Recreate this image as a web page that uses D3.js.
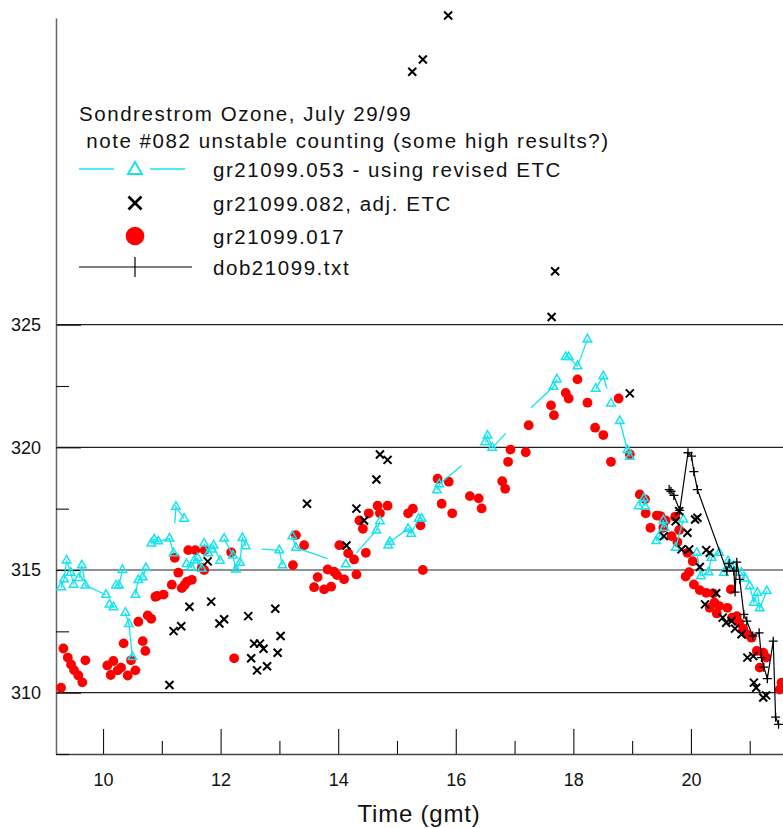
<!DOCTYPE html>
<html>
<head>
<meta charset="utf-8">
<script src="https://cdn.jsdelivr.net/npm/d3@7"></script>
<style>
  html, body { margin: 0; padding: 0; background: #fff; }
  svg { display: block; font-family: "Liberation Sans", Arial, sans-serif; }
</style>
</head>
<body>
<svg id="chart" width="783" height="828"></svg>
<script>
// Total ozone, Sondrestrom, July 29 1999 (time in hours GMT, ozone in DU)

// gr21099.053 - using revised ETC: runs of connected observations; third value 0 = no marker
const revisedEtcRuns = [
  [[9.286,314.30],[9.337,314.62],[9.38,315.39],[9.45,314.89],[9.50,314.40]],
  [[9.59,314.67],[9.64,315.19],[9.70,314.37],[10.05,313.99]],
  [[10.11,313.59],[10.18,313.48]],
  [[10.22,314.37],[10.27,314.37],[10.33,315.00]],
  [[10.38,313.26],[10.44,312.80],[10.50,311.45]],
  [[10.55,313.99],[10.60,314.59],[10.675,314.70],[10.73,315.08]],
  [[10.82,316.08],[10.87,316.25],[10.94,316.17],[11.13,316.28],[11.20,315.68]],
  [[11.22,316.90,0],[11.24,317.58],[11.38,317.09]],
  [[11.42,315.24],[11.50,315.11],[11.55,315.39],[11.61,315.48],[11.68,315.05]],
  [[11.72,316.08],[11.79,315.68],[11.84,315.84],[11.88,316.00],[11.99,315.38]],
  [[12.06,316.28],[12.21,315.59],[12.26,315.02],[12.33,315.30],[12.37,316.30],[12.43,315.97]],
  [[12.70,315.85,0],[12.998,315.80],[13.05,315.19]],
  [[13.22,316.38],[13.28,315.91],[13.82,315.46,0]],
  [[14.13,315.23]],
  [[14.31,315.70,0],[14.65,316.61],[14.71,316.99]],
  [[14.85,316.00],[14.88,316.15],[15.19,316.68],[15.24,316.48],[15.37,317.09],[15.42,317.09]],
  [[15.68,318.25],[15.72,318.50],[16.10,319.26,0]],
  [[16.50,320.21],[16.54,320.48],[16.62,319.98],[16.85,320.57,0]],
  [[17.28,321.61,0],[17.66,322.47],[17.72,322.77]],
  [[17.87,323.68],[17.92,323.68],[18.07,323.31],[18.24,324.40]],
  [[18.38,322.39],[18.51,322.90],[18.57,322.40,0]],
  [[18.64,321.79]],
  [[18.79,321.07],[18.92,319.89],[18.96,319.62]],
  [[19.11,317.60],[19.20,317.92],[19.22,317.58]],
  [[19.41,316.18],[19.46,316.38],[19.53,317.03],[19.55,316.72]],
  [[19.74,315.91],[19.87,317.06]],
  [[20.10,315.70],[20.17,314.75],[20.30,314.91],[20.35,315.50],[20.48,315.70]],
  [[20.56,314.89],[20.63,315.36],[20.73,315.16],[20.86,314.89],[20.92,314.65]],
  [[21.00,314.34],[21.07,313.67],[21.13,314.07],[21.17,313.44],[21.29,314.14]]
];

// gr21099.082, adj. ETC
const adjEtc082 = [
  [11.13,310.31],[11.20,312.51],[11.33,312.71],[11.47,313.50],[11.78,315.35],[11.84,313.71],
  [11.98,312.82],[12.06,312.99],[12.47,313.12],[12.52,311.40],[12.57,312.00],[12.62,310.91],
  [12.67,312.00],[12.73,311.79],[12.79,311.08],[12.93,313.42],[12.97,311.63],[13.02,312.31],
  [13.47,317.70],[14.14,316.00],[14.31,317.50],[14.44,317.02],[14.65,318.69],[14.71,319.71],
  [14.84,319.49],[15.26,335.31],[15.44,335.81],[15.87,337.60],[17.63,325.31],[17.69,327.18],
  [18.96,322.20],[19.54,316.38],[19.74,316.99],[19.80,317.40],[19.84,315.84],[19.94,316.52],
  [19.97,315.84],[20.07,317.06],[20.11,317.13],[20.15,315.12],[20.24,313.60],[20.26,315.81],
  [20.32,315.70],[20.43,314.05],[20.54,313.06],[20.60,312.85],[20.69,312.92],[20.75,312.61],
  [20.86,312.38],[20.96,311.43],[21.06,311.49],[21.07,310.41],[21.11,310.20],[21.23,309.80],
  [21.28,309.89]
];

// gr21099.017
const brewer017 = [
  [9.286,310.20],[9.325,311.80],[9.40,311.43],[9.456,311.15],[9.507,310.92],[9.58,310.70],
  [9.648,310.42],[9.70,311.32],[10.073,311.11],[10.13,310.72],[10.175,311.29],[10.25,310.91],
  [10.306,311.02],[10.35,312.01],[10.42,310.70],[10.476,311.32],[10.55,310.91],[10.60,312.89],
  [10.675,312.10],[10.72,311.70],[10.76,313.15],[10.82,313.01],[10.89,313.91],[10.92,313.94],
  [11.03,314.00],[11.17,314.40],[11.22,315.50],[11.28,314.89],[11.34,314.26],[11.39,314.40],
  [11.43,314.53],[11.45,315.81],[11.51,314.60],[11.57,315.81],[11.68,315.09],[11.72,315.00],
  [11.73,315.81],[12.18,315.72],[12.23,311.40],[13.23,315.20],[13.28,316.42],[13.42,316.01],
  [13.59,314.30],[13.65,314.71],[13.76,314.21],[13.82,315.02],[13.88,314.32],[13.93,314.93],
  [13.98,314.79],[14.02,316.01],[14.10,314.62],[14.17,315.68],[14.27,315.43],[14.31,314.82],
  [14.36,317.02],[14.42,316.68],[14.47,315.70],[14.52,317.31],[14.67,317.62],[14.71,317.31],
  [14.84,317.62],[15.19,317.31],[15.27,317.50],[15.40,316.82],[15.44,315.00],[15.69,318.72],
  [15.76,317.70],[15.88,318.60],[15.94,317.31],[16.24,318.01],[16.39,317.92],[16.44,317.51],
  [16.79,318.62],[16.84,318.31],[16.89,319.41],[16.93,319.91],[17.19,319.80],[17.24,320.90],
  [17.62,321.71],[17.67,321.31],[17.87,322.22],[17.92,321.99],[18.07,322.77],[18.24,321.82],
  [18.37,320.80],[18.51,320.50],[18.64,319.41],[18.77,321.99],[18.96,319.72],[19.13,318.08],
  [19.22,317.88],[19.23,317.31],[19.31,316.72],[19.42,317.22],[19.48,317.20],[19.53,316.72],
  [19.57,317.02],[19.67,316.38],[19.73,317.17],[19.77,316.14],[19.80,316.63],[19.91,314.73],
  [19.94,315.70],[19.97,314.91],[20.03,315.36],[20.05,314.41],[20.15,314.18],[20.26,314.07],
  [20.32,313.46],[20.38,314.05],[20.40,313.67],[20.44,313.23],[20.48,313.53],[20.62,313.46],
  [20.68,314.21],[20.70,313.06],[20.78,313.12],[20.82,312.85],[20.89,312.61],[20.95,312.38],
  [21.03,312.24],[21.12,311.70],[21.17,311.02],[21.23,311.63],[21.28,311.43],[21.51,310.13],
  [21.54,310.41]
];

// dob21099.txt (Dobson)
const dobson = [
  [19.63,318.28],[19.66,318.21],[19.71,318.04],[19.81,317.43],[19.95,319.78],[20.01,319.64],
  [20.05,319.01],[20.11,318.28],[20.61,314.96],[20.65,315.27],[20.73,314.96],[20.75,314.10],
  [20.78,315.32],[20.83,314.62],[20.90,313.19],[20.95,312.92],[21.05,312.31],[21.16,312.44],
  [21.20,311.43],[21.24,311.04],[21.30,310.57],[21.40,312.10],[21.44,309.00],[21.49,308.71]
];

const xMajorTicks = [10, 12, 14, 16, 18, 20];
const xMinorTicks = [11, 13, 15, 17, 19, 21];
const yMajorTicks = [310, 315, 320, 325];
const yMinorTicks = [307.5, 312.5, 317.5, 322.5];

const titleLines = ["Sondrestrom Ozone, July 29/99", " note #082 unstable counting (some high results?)"];
const legendLabels = ["gr21099.053 - using revised ETC", "gr21099.082, adj. ETC", "gr21099.017", "dob21099.txt"];
const xTitle = "Time (gmt)";

const CYAN = "#14e4ee", RED = "#ff0000", BLACK = "#000";

const svg = d3.select("#chart");
const x = d3.scaleLinear().domain([9.2, 21.6]).range([56, 785]);
const y = d3.scaleLinear().domain([307.5, 337.5]).range([754, 18]);

// horizontal grid lines
svg.append("g").selectAll("line").data(yMajorTicks).join("line")
  .attr("x1", x.range()[0]).attr("x2", 783)
  .attr("y1", d => y(d)).attr("y2", d => y(d))
  .attr("stroke", "#222").attr("stroke-width", 1.1);

// axes
const gx = svg.append("g").attr("transform", `translate(0,${y(307.5)})`);
gx.call(d3.axisBottom(x).tickValues(xMajorTicks).tickSizeInner(-25).tickSizeOuter(0).tickPadding(19).tickFormat(d3.format("d")));
gx.append("g").call(d3.axisBottom(x).tickValues(xMinorTicks).tickSizeInner(-13).tickSizeOuter(0).tickFormat(""))
  .select(".domain").remove();

const gy = svg.append("g").attr("transform", `translate(${x(9.2)},0)`);
gy.call(d3.axisLeft(y).tickValues(yMajorTicks).tickSizeInner(-25).tickSizeOuter(0).tickPadding(15).tickFormat(d3.format("d")));
gy.append("g").call(d3.axisLeft(y).tickValues(yMinorTicks).tickSizeInner(-13).tickSizeOuter(0).tickFormat(""))
  .select(".domain").remove();

svg.selectAll(".tick text").attr("font-size", 18).attr("fill", "#111")
  .attr("font-family", "'Liberation Sans', Arial, sans-serif");
svg.selectAll(".tick line").attr("stroke", "#111").attr("stroke-width", 1.1);
gx.select(".domain").attr("stroke", "#444").attr("stroke-width", 1.4);
gy.select(".domain").attr("stroke", "#666").attr("stroke-width", 1.5);

svg.append("text").attr("x", 419).attr("y", 822).attr("text-anchor", "middle")
  .attr("font-size", 24).attr("letter-spacing", 0.8).attr("fill", "#111").text(xTitle);

// marker shapes
const triPath = (w, h) => `M0,${-h * 2 / 3}L${w / 2},${h / 3}L${-w / 2},${h / 3}Z`;
const crossPath = s => `M${-s},${-s}L${s},${s}M${-s},${s}L${s},${-s}`;
const plusPath = s => `M${-s},0L${s},0M0,${-s}L0,${s}`;

// gr21099.017 filled circles
svg.append("g").selectAll("circle").data(brewer017).join("circle")
  .attr("cx", d => x(d[0])).attr("cy", d => y(d[1])).attr("r", 4.9).attr("fill", RED);

// gr21099.053 lines and triangles
const line = d3.line().x(d => x(d[0])).y(d => y(d[1]));
const gc = svg.append("g");
gc.selectAll("path.run").data(revisedEtcRuns.filter(r => r.length > 1)).join("path")
  .attr("class", "run").attr("d", line).attr("fill", "none").attr("stroke", CYAN).attr("stroke-width", 1.3);
gc.selectAll("path.tri").data(revisedEtcRuns.flat().filter(d => d[2] !== 0)).join("path")
  .attr("class", "tri").attr("d", triPath(8.5, 7.5))
  .attr("transform", d => `translate(${x(d[0])},${y(d[1])})`)
  .attr("fill", "none").attr("stroke", CYAN).attr("stroke-width", 1.5);

// gr21099.082 crosses
svg.append("g").selectAll("path").data(adjEtc082).join("path")
  .attr("d", crossPath(4))
  .attr("transform", d => `translate(${x(d[0])},${y(d[1])})`)
  .attr("stroke", BLACK).attr("stroke-width", 2).attr("fill", "none");

// Dobson line with plus markers
const gd = svg.append("g");
gd.append("path").datum(dobson).attr("d", line).attr("fill", "none").attr("stroke", BLACK).attr("stroke-width", 1.2);
gd.selectAll("path.plus").data(dobson).join("path").attr("class", "plus")
  .attr("d", plusPath(4.5))
  .attr("transform", d => `translate(${x(d[0])},${y(d[1])})`)
  .attr("stroke", BLACK).attr("stroke-width", 1.3);

// legend
const lg = svg.append("g").attr("font-size", 20.5).attr("letter-spacing", 1.55).attr("fill", "#111");
lg.selectAll("text.title").data(titleLines).join("text").attr("class", "title")
  .attr("x", 79).attr("y", (d, i) => 121 + i * 27).style("white-space", "pre").text(d => d);

const rowY = [169, 203, 236, 267];
lg.selectAll("text.lab").data(legendLabels).join("text").attr("class", "lab")
  .attr("x", 213).attr("y", (d, i) => rowY[i] + 8).text(d => d);

const symX = 135;
lg.append("line").attr("x1", 79).attr("x2", 114).attr("y1", rowY[0]).attr("y2", rowY[0]).attr("stroke", CYAN).attr("stroke-width", 1.5);
lg.append("line").attr("x1", 150).attr("x2", 185).attr("y1", rowY[0]).attr("y2", rowY[0]).attr("stroke", CYAN).attr("stroke-width", 1.5);
lg.append("path").attr("d", triPath(14, 12)).attr("transform", `translate(${symX},${rowY[0] + 1})`)
  .attr("fill", "none").attr("stroke", CYAN).attr("stroke-width", 2);
lg.append("path").attr("d", crossPath(6.5)).attr("transform", `translate(${symX},${rowY[1]})`)
  .attr("stroke", BLACK).attr("stroke-width", 2.8);
lg.append("circle").attr("cx", symX).attr("cy", rowY[2]).attr("r", 9.3).attr("fill", RED);
lg.append("line").attr("x1", 79).attr("x2", 192).attr("y1", rowY[3]).attr("y2", rowY[3]).attr("stroke", BLACK).attr("stroke-width", 1.2);
lg.append("path").attr("d", "M0,-10L0,10").attr("transform", `translate(${symX},${rowY[3]})`)
  .attr("stroke", BLACK).attr("stroke-width", 1.2);
</script>
</body>
</html>
